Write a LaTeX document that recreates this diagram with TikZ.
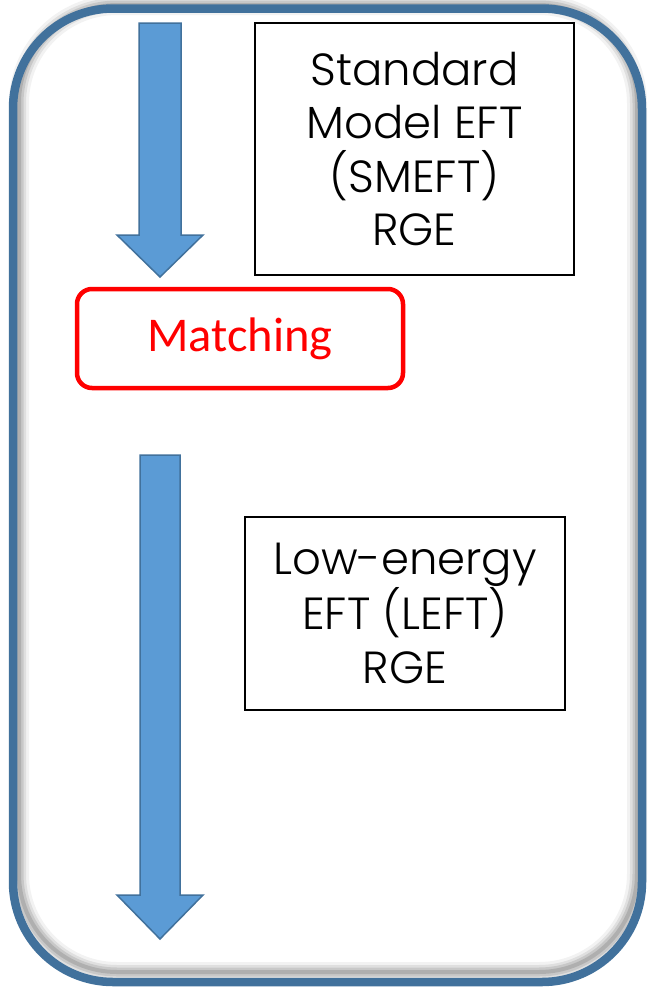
\documentclass[tikz,border=0pt]{standalone}
\usepackage{fontspec}
\setmainfont{Poppins Light}
\newfontfamily\callabel{Carlito}
\begin{document}
\begin{tikzpicture}[x=1pt,y=-1pt,
  framecol/.style={draw=frameblue, line width=8.5pt, rounded corners=100pt},
  bigarrow/.style={fill=arrowfill, draw=frameblue, line width=1.5pt, line join=miter},
  rgebox/.style={draw=black, line width=1.2pt, align=center, inner sep=0pt,
    font=\fontsize{45}{53.5}\selectfont},
  matchbox/.style={draw=matchred, line width=4.5pt, rounded corners=15pt,
    inner sep=0pt, text=matchred, font=\callabel\fontsize{48.5}{56}\selectfont}]
\definecolor{frameblue}{HTML}{41719C}
\definecolor{arrowfill}{HTML}{5B9BD5}
\definecolor{matchred}{HTML}{FF0000}
\useasboundingbox (0,0) rectangle (649,989);
\fill[white] (0,0) rectangle (649,989);

% soft shadow along the inside of the frame
\foreach \w/\o in {20/0.05, 14/0.08, 9/0.1, 4/0.12}
  \draw[line width=\w pt, black, opacity=\o, rounded corners=98pt] (19,5) rectangle (637,972);

% outer frame
\draw[framecol] (13,8.5) rectangle (642,982);

% upper block arrow
\draw[bigarrow] (139,23) -- (181,23) -- (181,235) -- (203,235) -- (160,277)
  -- (117,235) -- (139,235) -- cycle;

% lower block arrow
\draw[bigarrow] (140,455) -- (180,455) -- (180,895) -- (203,895) -- (160,939)
  -- (117,895) -- (140,895) -- cycle;

% text boxes
\node[rgebox, minimum width=319pt, minimum height=252pt] (smeft) at (414.5,149)
  {Standard\\Model EFT\\(SMEFT)\\RGE};
\node[rgebox, minimum width=320pt, minimum height=193pt] (left) at (405,613.5)
  {Low-energy\\EFT (LEFT)\\RGE};

% matching step
\node[matchbox, minimum width=326pt, minimum height=99pt] (match) at (240,338.5) {Matching};
\end{tikzpicture}
\end{document}
